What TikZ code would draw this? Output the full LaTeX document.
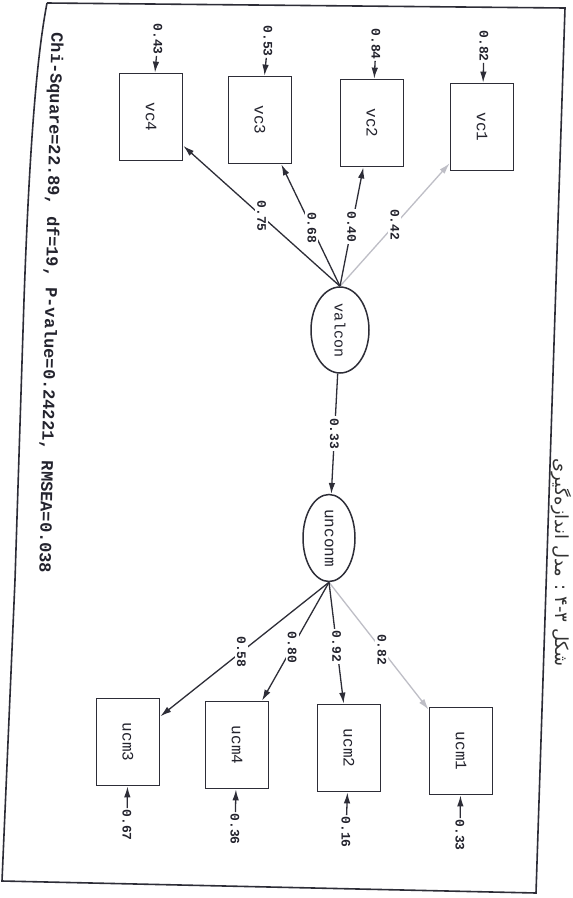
\documentclass[tikz,border=0pt]{standalone}
\usepackage{fontspec}
\setmonofont{Liberation Mono}
\newfontfamily\fafont[Script=Arabic]{DejaVu Sans}
\TeXXeTstate=1
\usetikzlibrary{arrows.meta,shapes.geometric}
\definecolor{linec}{RGB}{45,45,55}
\definecolor{weakc}{RGB}{190,190,198}
\definecolor{textc}{RGB}{35,35,45}
\begin{document}
\begin{tikzpicture}[x=1pt,y=-1pt,
  obsbox/.style={draw=linec, line width=1.8pt, rotate=-90, minimum width=87pt, minimum height=63pt, inner sep=0pt, fill=white, text=textc, font=\ttfamily\fontsize{16}{16}\selectfont},
  latent/.style={ellipse, draw=linec, line width=1.5pt, rotate=-90, inner sep=0pt, fill=white, text=textc},
  num/.style={rotate=-90, inner sep=1pt, text=textc, font=\ttfamily\bfseries\fontsize{13}{13}\selectfont},
  lab/.style={num, fill=white, inner sep=2pt},
  arr/.style={draw=linec, line width=1.3pt, -{Latex[length=11pt,width=6.5pt]}},
  weak/.style={arr, draw=weakc}]
\useasboundingbox (0,0) rectangle (573,898);
\clip (0,0) rectangle (573,898);
\fill[white] (0,0) rectangle (573,898);
% frame
\coordinate (TL) at (47,3);
\coordinate (TR) at (565,8);
\coordinate (BR) at (536,893);
\coordinate (BL) at (2,881);
\coordinate (L1) at (15,580);
\coordinate (L2) at (24,300);
\draw[linec, line width=1.6pt] (TL) -- (TR) -- (BR) -- (BL) -- (L1) -- (L2) .. controls (30,130) and (38,50) .. (TL);
% caption
\node[rotate=-90, text=black!80, inner sep=0pt, font=\fafont\fontsize{18}{18}\selectfont] (cap) at (561,560) {\beginR شکل ۴-۳ : مدل اندازه‌گیری \endR};
% fit statistics
\node[rotate=-91.3, font=\ttfamily\bfseries\fontsize{17}{17}\selectfont, text=textc] (chi) at (50,303) {Chi-Square=22.89, df=19, P-value=0.24221, RMSEA=0.038};
% latent variables
\node[latent, minimum width=86pt, minimum height=58pt, font=\ttfamily\fontsize{15}{15}\selectfont] (valcon) at (340,330) {valcon};
\node[latent, minimum width=87pt, minimum height=52pt, font=\ttfamily\fontsize{16}{16}\selectfont] (unconm) at (329,538) {unconm};
% observed variables (top)
\node[obsbox] (vc1) at (482,127) {vc1};
\node[obsbox] (vc2) at (372,123) {vc2};
\node[obsbox] (vc3) at (260,120) {vc3};
\node[obsbox] (vc4) at (151,117) {vc4};
% observed variables (bottom)
\node[obsbox] (ucm1) at (461,751) {ucm1};
\node[obsbox] (ucm2) at (349,748) {ucm2};
\node[obsbox] (ucm4) at (237,745) {ucm4};
\node[obsbox] (ucm3) at (128,742) {ucm3};
% error variances (top)
\node[num] (e1) at (484,46) {0.82};
\node[num] (e2) at (376,44) {0.84};
\node[num] (e3) at (268,41) {0.53};
\node[num] (e4) at (158,39) {0.43};
\draw[arr] (e1) -- (vc1);
\draw[arr] (e2) -- (vc2);
\draw[arr] (e3) -- (vc3);
\draw[arr] (e4) -- (vc4);
% error variances (bottom)
\node[num] (f1) at (460,835) {0.33};
\node[num] (f2) at (346,832) {0.16};
\node[num] (f4) at (235,829) {0.36};
\node[num] (f3) at (127,825) {0.67};
\draw[arr] (f1) -- (ucm1);
\draw[arr] (f2) -- (ucm2);
\draw[arr] (f4) -- (ucm4);
\draw[arr] (f3) -- (ucm3);
% loadings valcon
\draw[weak] (valcon.west) -- node[lab, pos=0.5] {0.42} (vc1);
\draw[arr] (valcon.west) -- node[lab, pos=0.5] {0.40} (vc2);
\draw[arr] (valcon.west) -- node[lab, pos=0.48] {0.68} (vc3);
\draw[arr] (valcon.west) -- node[lab, pos=0.5] {0.75} (vc4);
% structural path
\draw[arr] (valcon) -- node[lab, pos=0.5] {0.33} (unconm);
% loadings unconm
\draw[weak] (unconm.east) -- node[lab, pos=0.53] {0.82} (ucm1);
\draw[arr] (unconm.east) -- node[lab, pos=0.53] {0.92} (ucm2);
\draw[arr] (unconm.east) -- node[lab, pos=0.55] {0.80} (ucm4);
\draw[arr] (unconm.east) -- node[lab, pos=0.52] {0.58} (ucm3);
\end{tikzpicture}
\end{document}
